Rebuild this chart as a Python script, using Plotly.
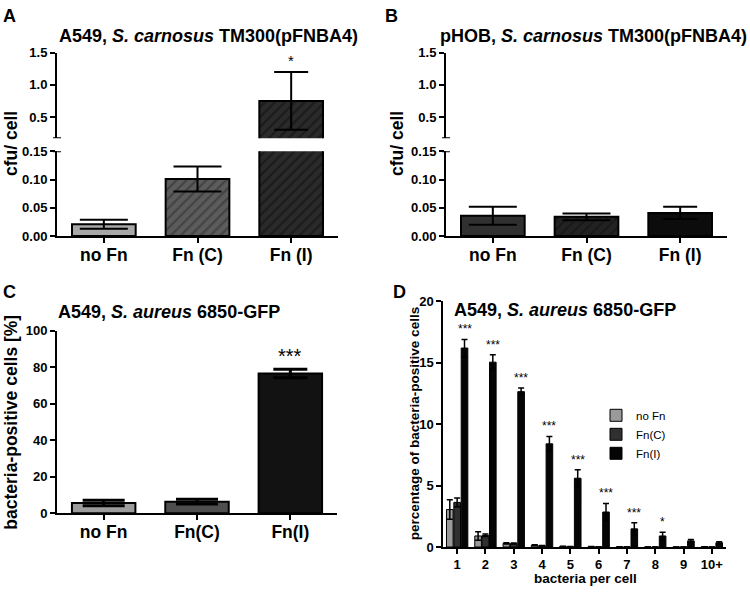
import plotly.graph_objects as go

W, H = 750, 594
FONT = "Liberation Sans, Arial, sans-serif"

# ---------------- data ----------------
cats_ab = ["no Fn", "Fn (C)", "Fn (I)"]
a_vals = [0.021, 0.101, 0.75]
a_err = [0.008, 0.022, 0.45]
b_vals = [0.036, 0.034, 0.041]
b_err = [0.016, 0.006, 0.011]
a_sig = ["", "", "*"]

cats_c = ["no Fn", "Fn(C)", "Fn(I)"]
c_vals = [5.6, 6.3, 76.5]
c_err = [1.5, 1.3, 2.3]
c_sig = ["", "", "***"]

d_cats = ["1", "2", "3", "4", "5", "6", "7", "8", "9", "10+"]
d_series = ["no Fn", "Fn(C)", "Fn(I)"]
d_nofn = [3.05, 0.9, 0.3, 0.15, 0.05, 0.03, 0.01, 0.0, 0.0, 0.02]
d_nofn_err = [0.8, 0.35, 0.05, 0.03, 0.02, 0.01, 0.01, 0.0, 0.0, 0.01]
d_fnc = [3.63, 0.95, 0.28, 0.1, 0.03, 0.01, 0.01, 0.0, 0.0, 0.0]
d_fnc_err = [0.35, 0.1, 0.04, 0.02, 0.01, 0.0, 0.0, 0.0, 0.0, 0.0]
d_fni = [16.2, 15.05, 12.65, 8.4, 5.6, 2.85, 1.48, 0.9, 0.5, 0.35]
d_fni_err = [0.7, 0.6, 0.3, 0.6, 0.7, 0.7, 0.5, 0.3, 0.12, 0.08]
d_sig = ["***", "***", "***", "***", "***", "***", "***", "*", "", ""]

lower_ticks = [0.0, 0.05, 0.10, 0.15]
upper_ticks = [0.5, 1.0, 1.5]
upper_min = 0.167
c_ticks = [0, 20, 40, 60, 80, 100]
d_ticks = [0, 5, 10, 15, 20]


def fx(px):
    return px / W


def fy(py):
    return 1 - py / H


fig = go.Figure()

BW = 0.68
a_styles = [
    dict(color="#a8a8a8"),
    dict(color="#5c5c5c", pattern=dict(shape="/", size=7, solidity=0.3, fgcolor="#262626", bgcolor="#5c5c5c")),
    dict(color="#2a2a2a", pattern=dict(shape="/", size=7, solidity=0.3, fgcolor="#0a0a0a", bgcolor="#2a2a2a")),
]
b_styles = [
    dict(color="#303030"),
    dict(color="#222222", pattern=dict(shape="/", size=7, solidity=0.25, fgcolor="#0a0a0a", bgcolor="#222222")),
    dict(color="#0c0c0c"),
]
c_styles = [dict(color="#9c9c9c"), dict(color="#4e4e4e"), dict(color="#121212")]
cap_ab = [24, 24, 17]
cap_c = [21, 21, 17]


def add_cat_bars(cats, vals, errs, styles, caps, xa, ya, thick=2):
    for i, c in enumerate(cats):
        m = dict(styles[i])
        m["line"] = dict(color="black", width=2)
        fig.add_trace(go.Bar(
            x=[c], y=[vals[i]], width=BW, offset=-BW / 2, marker=m,
            error_y=dict(type="data", array=[errs[i]], color="black", thickness=thick, width=caps[i]),
            xaxis=xa, yaxis=ya, showlegend=False, hoverinfo="skip"))


# Panel A (lower + upper segments)
add_cat_bars(cats_ab, a_vals, a_err, a_styles, cap_ab, "x", "y")
add_cat_bars(cats_ab, a_vals, a_err, a_styles, cap_ab, "x2", "y2")
# Panel B
add_cat_bars(cats_ab, b_vals, b_err, b_styles, cap_ab, "x3", "y3")
add_cat_bars(cats_ab, b_vals, b_err, b_styles, cap_ab, "x4", "y4")
# Panel C
add_cat_bars(cats_c, c_vals, c_err, c_styles, cap_c, "x5", "y5", thick=3)

# Panel D
d_colors = ["#9a9a9a", "#303030", "#050505"]
for name, vals, errs, col in zip(d_series, [d_nofn, d_fnc, d_fni], [d_nofn_err, d_fnc_err, d_fni_err], d_colors):
    fig.add_trace(go.Bar(
        x=d_cats, y=vals, name=name, marker=dict(color=col, line=dict(color="black", width=1)),
        error_y=dict(type="data", array=errs, color="black", thickness=1.5, width=3),
        xaxis="x6", yaxis="y6", showlegend=True, hoverinfo="skip"))

tickfont = dict(family=FONT, size=13, color="black", weight="bold")
catfont = dict(family=FONT, size=17.5, color="black", weight="bold")
base_axis = dict(showline=True, linecolor="black", linewidth=2, ticks="outside", ticklen=5,
                 tickwidth=2, tickcolor="black", showgrid=False, zeroline=False)
cat_axis = dict(base_axis, tickfont=catfont, ticklabelstandoff=-3)

xA = [fx(57), fx(338)]
xB = [fx(446), fx(727)]
yLow = [fy(235), fy(148)]
yUp = [fy(134.7), fy(47)]

fig.update_layout(
    width=W, height=H, margin=dict(l=0, r=0, t=0, b=0),
    paper_bgcolor="white", plot_bgcolor="white",
    barmode="group", bargap=0.22, bargroupgap=0.1,
    font=dict(family=FONT, color="black"),
    xaxis=dict(cat_axis, domain=xA, anchor="y", range=[-0.5, 2.5]),
    yaxis=dict(base_axis, domain=yLow, anchor="x", range=[0, 0.15], tickvals=lower_ticks,
               tickformat=".2f", tickfont=tickfont),
    xaxis2=dict(domain=xA, anchor="y2", range=[-0.5, 2.5], visible=False),
    yaxis2=dict(base_axis, domain=yUp, anchor="x2", range=[upper_min, 1.5], tickvals=upper_ticks,
                tickformat=".1f", tickfont=tickfont),
    xaxis3=dict(cat_axis, domain=xB, anchor="y3", range=[-0.5, 2.5]),
    yaxis3=dict(base_axis, domain=yLow, anchor="x3", range=[0, 0.15], tickvals=lower_ticks,
                tickformat=".2f", tickfont=tickfont),
    xaxis4=dict(domain=xB, anchor="y4", range=[-0.5, 2.5], visible=False),
    yaxis4=dict(base_axis, domain=yUp, anchor="x4", range=[upper_min, 1.5], tickvals=upper_ticks,
                tickformat=".1f", tickfont=tickfont),
    xaxis5=dict(cat_axis, domain=[fx(57), fx(337)], anchor="y5", range=[-0.5, 2.5]),
    yaxis5=dict(base_axis, domain=[fy(519.3), fy(332)], anchor="x5", range=[0, 100], tickvals=c_ticks,
                tickfont=tickfont),
    xaxis6=dict(base_axis, domain=[fx(443), fx(726)], anchor="y6", range=[-0.5, 9.5], linewidth=1.5,
                tickwidth=1.5, tickfont=tickfont),
    yaxis6=dict(base_axis, domain=[fy(554), fy(302)], anchor="x6", range=[0, 20], tickvals=d_ticks,
                linewidth=1.5, tickwidth=1.5, tickfont=tickfont),
    legend=dict(x=fx(596), y=fy(404), xanchor="left", yanchor="top", bgcolor="rgba(0,0,0,0)",
                font=dict(family=FONT, size=11.5, color="black"), tracegroupgap=0),
)

# break marks on the split axes
for xr, ylo, yup in [("x", "y", "y2"), ("x3", "y3", "y4")]:
    fig.add_shape(type="line", xref=xr + " domain", yref=yup, xsizemode="pixel", xanchor=0,
                  x0=-4, x1=4, y0=upper_min, y1=upper_min, line=dict(color="black", width=2))
    fig.add_shape(type="line", xref=xr + " domain", yref=ylo, xsizemode="pixel", xanchor=0,
                  x0=-4, x1=4, y0=lower_ticks[-1], y1=lower_ticks[-1], line=dict(color="black", width=2))

ann = []


def text(x, y, s, size, bold=True, angle=0, xanchor="center"):
    ann.append(dict(x=fx(x), y=fy(y), xref="paper", yref="paper", text=s, showarrow=False,
                    textangle=angle, xanchor=xanchor, yanchor="middle",
                    font=dict(family=FONT, size=size, color="black", weight="bold" if bold else "normal")))


# panel letters
text(9, 9, "A", 18)
text(391, 9, "B", 18)
text(9, 292, "C", 18)
text(399, 292, "D", 18)
# titles
text(57, 30, "A549, <i>S. carnosus</i> TM300(pFNBA4)", 18, xanchor="left")
text(749, 30, "pHOB, <i>S. carnosus</i> TM300(pFNBA4)", 18, xanchor="right")
text(168.5, 313, "A549, <i>S. aureus</i> 6850-GFP", 18)
text(565, 311, "A549, <i>S. aureus</i> 6850-GFP", 18)
# y titles
text(11, 140.5, "cfu/ cell", 17.5, angle=-90)
text(397, 140.5, "cfu/ cell", 17.5, angle=-90)
text(11.5, 426, "bacteria-positive cells [%]", 17.5, angle=-90)
text(414, 428, "percentage of bacteria-positive cells", 13.5, angle=-90)
# x title D
text(585, 586, "bacteria per cell", 13.5)

fig.update_layout(annotations=ann)

# significance marks
for i, s in enumerate(a_sig):
    if s:
        fig.add_annotation(x=i, y=a_vals[i] + a_err[i], xref="x2", yref="y2", text=s, showarrow=False,
                           yanchor="middle", yshift=11.5, font=dict(family=FONT, size=15, color="black"))
for i, s in enumerate(c_sig):
    if s:
        fig.add_annotation(x=i, y=c_vals[i] + c_err[i], xref="x5", yref="y5", text=s, showarrow=False,
                           yanchor="middle", yshift=13, font=dict(family=FONT, size=20, color="black"))
slot = (1 - 0.22) / 3
for i, s in enumerate(d_sig):
    if s:
        fig.add_annotation(x=i + slot, y=d_fni[i] + d_fni_err[i], xref="x6", yref="y6", text=s,
                           showarrow=False, yanchor="middle", yshift=10,
                           font=dict(family=FONT, size=12, color="black"))

fig.write_html("out.html", config={"displayModeBar": False},
               post_script="document.body.style.margin='0';")
